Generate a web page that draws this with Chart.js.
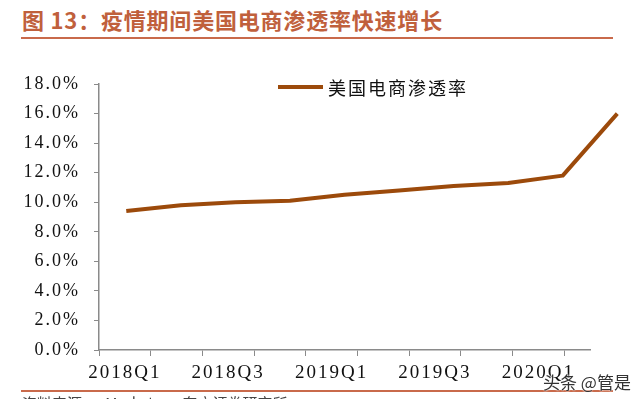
<!DOCTYPE html>
<html>
<head>
<meta charset="utf-8">
<script src="https://cdn.jsdelivr.net/npm/chart.js@4/dist/chart.umd.min.js"></script>
<style>
  html, body { margin: 0; padding: 0; background: #fff; }
  #wrap { position: relative; width: 632px; height: 399px; overflow: hidden; }
  #title {
    position: absolute; left: 22px; top: 3px; white-space: nowrap;
    font: bold 22px "Noto Sans CJK SC"; letter-spacing: 0.8px; color: #c0603c;
  }
  .rule { position: absolute; left: 21px; width: 592px; height: 2px; background: #c96a4b; }
  #chart { position: absolute; left: 0; top: 0; }
  #legend { position: absolute; left: 278px; top: 74px; white-space: nowrap; }
  #legend .swatch { display: inline-block; width: 45px; height: 4px; background: #9c4a0b; vertical-align: middle; margin-right: 5px; }
  #legend .label { font: 18px "Noto Sans CJK SC"; letter-spacing: 2px; color: #111; vertical-align: middle; }
  #source { position: absolute; left: 22px; top: 392px; font: 15px "Noto Sans CJK SC"; color: #444; white-space: nowrap; }
  #mark {
    position: absolute; left: 543px; top: 369px; font: 17px "Noto Sans CJK SC"; color: #333;
    text-shadow: 0 0 2px #fff, 0 0 2px #fff;
  }
</style>
</head>
<body>
<div id="wrap">
  <div id="title">图 13：疫情期间美国电商渗透率快速增长</div>
  <div class="rule" style="top:37px"></div>
  <canvas id="chart" width="632" height="399"></canvas>
  <div id="legend"><span class="swatch"></span><span class="label">美国电商渗透率</span></div>
  <div class="rule" style="top:390px"></div>
  <div id="source">资料来源：eMarketer，东方证券研究所</div>
  <div id="mark">头条 @管是</div>
</div>
<script>
// 季度与渗透率（%）
const quarters = ["2018Q1", "2018Q2", "2018Q3", "2018Q4", "2019Q1", "2019Q2", "2019Q3", "2019Q4", "2020Q1", "2020Q2"];
const penetration = [9.4, 9.8, 10.0, 10.1, 10.5, 10.8, 11.1, 11.3, 11.8, 16.0];
const yTicks = [0, 2, 4, 6, 8, 10, 12, 14, 16, 18];

// 类别轴：刻度线在类别之间，标签隔一个显示
const shownQuarters = quarters.slice(0, 9);
const xTicks = [];
shownQuarters.forEach((q, i) => {
  xTicks.push(i - 0.5);
  if (i % 2 === 0) xTicks.push(i);
});
xTicks.push(shownQuarters.length - 0.5);

const axisColor = "#8a8a8a";

// 让坐标轴文字有字距
const letterSpacing = {
  id: "letterSpacing",
  beforeUpdate(chart) { chart.ctx.letterSpacing = "2px"; },
  beforeDraw(chart) { chart.ctx.letterSpacing = "2px"; },
};

new Chart(document.getElementById("chart"), {
  type: "line",
  data: {
    datasets: [
      {
        label: "美国电商渗透率",
        data: penetration.map((v, i) => ({ x: i, y: v })),
        xAxisID: "xLine",
        borderColor: "#9c4a0b",
        borderWidth: 4,
        pointRadius: 0,
        tension: 0,
        clip: false,
        borderJoinStyle: "round",
      },
    ],
  },
  options: {
    responsive: false,
    animation: false,
    layout: { padding: { top: 84, right: 42, left: 0, bottom: 0 } },
    plugins: { legend: { display: false }, tooltip: { enabled: false } },
    scales: {
      x: {
        type: "linear",
        position: "bottom",
        min: -0.5,
        max: 9,
        afterBuildTicks: (axis) => {
          axis.ticks = xTicks.map((v) => ({ value: v }));
        },
        afterFit: (axis) => {
          axis.height = 49;
        },
        grid: {
          drawOnChartArea: false,
          tickLength: 6,
          color: axisColor,
          tickColor: (c) =>
            c.tick && Number.isInteger(c.tick.value) ? "rgba(0,0,0,0)" : axisColor,
        },
        border: { color: axisColor, width: 1.5 },
        ticks: {
          autoSkip: false,
          maxRotation: 0,
          padding: 6,
          color: "#111",
          font: { family: "Liberation Serif", size: 19 },
          callback: (v) => (Number.isInteger(v) ? quarters[v] : ""),
        },
      },
      xLine: {
        type: "linear",
        axis: "x",
        position: "bottom",
        display: false,
        min: -0.5,
        max: 8.5,
      },
      y: {
        min: 0,
        max: 18,
        afterBuildTicks: (axis) => {
          axis.ticks = yTicks.map((v) => ({ value: v }));
        },
        afterFit: (axis) => {
          axis.width = 99;
        },
        grid: { drawOnChartArea: false, tickLength: 5, color: axisColor },
        border: { color: axisColor, width: 1.5 },
        ticks: {
          padding: 14,
          color: "#111",
          font: { family: "Liberation Serif", size: 18 },
          callback: (v) => v.toFixed(1) + "%",
        },
      },
    },
  },
  plugins: [letterSpacing],
});
</script>
</body>
</html>
